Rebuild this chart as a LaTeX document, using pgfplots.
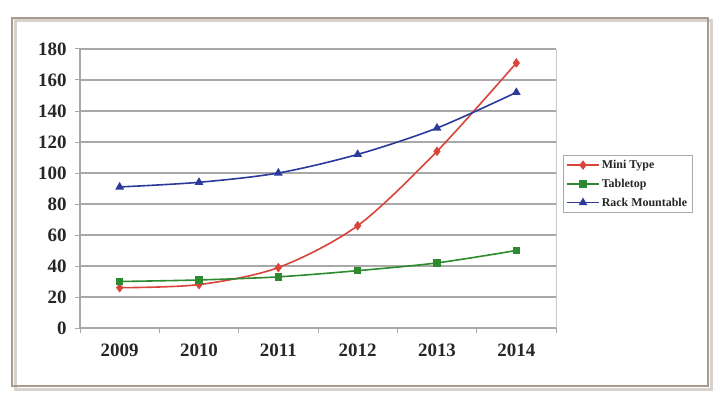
\documentclass[border=0pt]{standalone}
\usepackage{pgfplots}
\pgfplotsset{compat=1.18}
\usepackage{fontspec}
\setmainfont{Liberation Serif}
\definecolor{framec}{HTML}{A89A8C}
\definecolor{shadowc}{HTML}{D8D2CC}
\definecolor{gridc}{HTML}{A8A8A8}
\definecolor{minic}{HTML}{D9453C}
\definecolor{tablec}{HTML}{2E8A2E}
\definecolor{rackc}{HTML}{2C3A9C}
\begin{document}
\begin{tikzpicture}[x=1bp,y=1bp]
\useasboundingbox (0,0) rectangle (720,405);
\fill[white] (0,0) rectangle (720,405);
\draw[shadowc, line width=3bp] (15,16) rectangle (711,384);
\draw[framec, line width=2.5bp] (12,19) rectangle (708,387);
\begin{axis}[
  at={(80bp,77bp)}, anchor=south west,
  scale only axis, width=476bp, height=279bp,
  xmin=-0.5, xmax=5.5, ymin=0, ymax=180,
  xtick={0,1,2,3,4,5},
  xticklabels={2009,2010,2011,2012,2013,2014},
  minor xtick={-0.5,0.5,1.5,2.5,3.5,4.5,5.5},
  ytick={0,20,...,180},
  major x tick style={draw=none},
  tick align=outside,
  major tick length=5bp, minor tick length=5bp,
  every tick/.style={gridc, line width=1bp},
  ymajorgrids,
  major grid style={gridc, line width=1.6bp},
  axis line style={gridc, line width=1.2bp},
  axis x line*=bottom, axis y line*=left,
  /pgf/number format/assume math mode=true,
  ticklabel style={font=\fontsize{19}{19}\selectfont\bfseries, text=black!85},
  x tick label style={yshift=-7bp},
  y tick label style={xshift=-5bp},
  legend style={at={(1.0147,0.62)}, anchor=north west, draw=gridc,
    font=\fontsize{12}{14}\selectfont\bfseries, inner sep=3bp, row sep=5bp, text=black!85},
  legend image code/.code={\draw[line width=1.6bp, mark repeat=2,mark phase=2] plot coordinates {(0bp,0bp) (16bp,0bp) (32bp,0bp)};},
  legend cell align=left,
  clip=false,
]
\draw[gridc!60, line width=1bp] (rel axis cs:1,0) -- (rel axis cs:1,1);
\addplot[minic, line width=1.6bp, smooth, mark=diamond*, mark size=3.5bp] coordinates {
  (0,26) (1,28) (2,39) (3,66) (4,114) (5,171)};
\addlegendentry{Mini Type}
\addplot[tablec, line width=1.6bp, smooth, mark=square*, mark size=3bp] coordinates {
  (0,30) (1,31) (2,33) (3,37) (4,42) (5,50)};
\addlegendentry{Tabletop}
\addplot[rackc, line width=1.6bp, smooth, mark=triangle*, mark size=3.5bp] coordinates {
  (0,91) (1,94) (2,100) (3,112) (4,129) (5,152)};
\addlegendentry{Rack Mountable}
\end{axis}
\end{tikzpicture}
\end{document}
